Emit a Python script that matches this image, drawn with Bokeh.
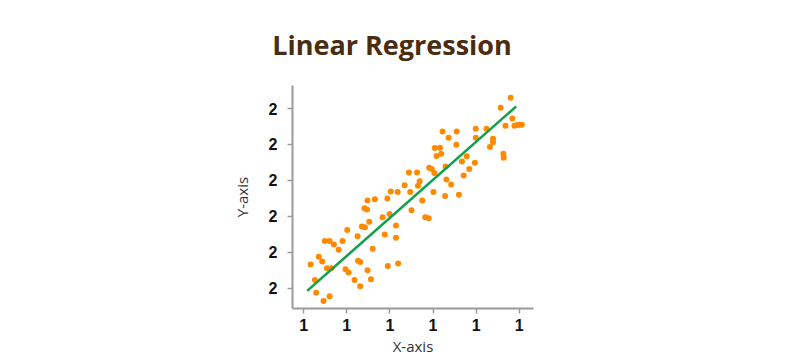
from bokeh.plotting import figure
from bokeh.models import Range1d, FixedTicker, Title, ColumnDataSource
from bokeh.embed import file_html
from bokeh.resources import INLINE

# ---- data ----
x_vals = [1.016, 1.026, 1.029, 1.035, 1.043, 1.046, 1.049, 1.054, 1.060, 1.060,
          1.064, 1.070, 1.081, 1.090, 1.101, 1.097, 1.104, 1.118, 1.125, 1.126,
          1.131, 1.131, 1.135, 1.142, 1.141, 1.147, 1.148, 1.152, 1.148, 1.156,
          1.160, 1.165, 1.183, 1.188, 1.194, 1.195, 1.199, 1.202, 1.214, 1.214,
          1.218, 1.219, 1.234, 1.244, 1.247, 1.250, 1.263, 1.265, 1.269, 1.275,
          1.282, 1.290, 1.291, 1.297, 1.301, 1.303, 1.304, 1.308, 1.316, 1.319,
          1.322, 1.329, 1.331, 1.336, 1.342, 1.328, 1.355, 1.354, 1.360, 1.367,
          1.371, 1.378, 1.384, 1.397, 1.399, 1.399, 1.424, 1.432, 1.439, 1.439,
          1.457, 1.463, 1.464, 1.468, 1.480, 1.484, 1.489, 1.495, 1.500, 1.506]
y_vals = [2.066, 2.023, 1.988, 2.088, 2.075, 1.965, 2.132, 2.056, 2.132, 1.978,
          2.056, 2.122, 2.107, 2.132, 2.162, 2.053, 2.044, 2.023, 2.145, 2.077,
          2.073, 2.006, 2.172, 2.170, 2.223, 2.219, 2.244, 2.185, 2.050, 2.025,
          2.110, 2.248, 2.198, 2.150, 2.250, 2.062, 2.207, 2.269, 2.175, 2.141,
          2.268, 2.069, 2.287, 2.322, 2.268, 2.217, 2.322, 2.285, 2.298, 2.244,
          2.198, 2.195, 2.335, 2.332, 2.268, 2.321, 2.390, 2.368, 2.391, 2.374,
          2.436, 2.339, 2.303, 2.419, 2.289, 2.257, 2.436, 2.399, 2.260, 2.353,
          2.314, 2.367, 2.332, 2.349, 2.444, 2.419, 2.444, 2.393, 2.416, 2.406,
          2.502, 2.374, 2.363, 2.452, 2.530, 2.472, 2.452, 2.454, 2.455, 2.455]
line_x = [1.008, 1.493]
line_y = [1.993, 2.506]

x_ticks = [1.0, 1.1, 1.2, 1.3, 1.4, 1.5]
x_tick_labels = ["1", "1", "1", "1", "1", "1"]
y_ticks = [2.0, 2.1, 2.2, 2.3, 2.4, 2.5]
y_tick_labels = ["2", "2", "2", "2", "2", "2"]

title_text = "Linear Regression"
x_label = "X-axis"
y_label = "Y-axis"

W, H = 800, 363
FL, FR, FT, FB = 292, 533, 85, 308   # frame edges in page pixels

p = figure(width=W, height=H, output_backend="svg", toolbar_location=None,
           x_range=Range1d(0.974, 1.533), y_range=Range1d(1.944, 2.564),
           min_border_left=FL, min_border_right=W - FR,
           min_border_top=FT, min_border_bottom=H - FB)
p.title.visible = False
p.outline_line_color = None
p.grid.visible = False
p.background_fill_color = "white"
p.border_fill_color = "white"

for ax, ticks, labels in ((p.xaxis[0], x_ticks, x_tick_labels),
                          (p.yaxis[0], y_ticks, y_tick_labels)):
    ax.ticker = FixedTicker(ticks=ticks)
    ax.major_label_overrides = {t: l for t, l in zip(ticks, labels)}
    ax.axis_line_color = "#9a9a9a"
    ax.axis_line_width = 2
    ax.major_tick_line_color = "#9a9a9a"
    ax.major_tick_line_width = 1.5
    ax.major_tick_in = 0
    ax.major_tick_out = 5
    ax.minor_tick_line_color = None
    ax.major_label_text_font = "Liberation Sans"
    ax.major_label_text_font_style = "bold"
    ax.major_label_text_font_size = "16px"
    ax.major_label_text_color = "#111111"
    ax.axis_label_text_font = "Open Sans"
    ax.axis_label_text_font_style = "normal"
    ax.axis_label_text_font_size = "15px"
    ax.axis_label_text_color = "#333333"

p.xaxis.axis_label = x_label
p.yaxis.axis_label = y_label
p.xaxis.major_label_standoff = 5
p.xaxis.axis_label_standoff = 2
p.yaxis.major_label_standoff = 10
p.yaxis.axis_label_standoff = 14

src = ColumnDataSource(dict(x=x_vals, y=y_vals))
p.scatter("x", "y", source=src, size=6, fill_color="#ff8a00",
          line_color=None)
p.line(line_x, line_y, line_color="#13a04c", line_width=2.6)

p.add_layout(Title(text=title_text, align="left", offset=271.7 - FL,
                   standoff=46, text_font="Open Sans",
                   text_font_style="bold", text_font_size="27px",
                   text_color="#4a2d10"), "above")

open("out.html", "w").write(file_html(p, INLINE))
